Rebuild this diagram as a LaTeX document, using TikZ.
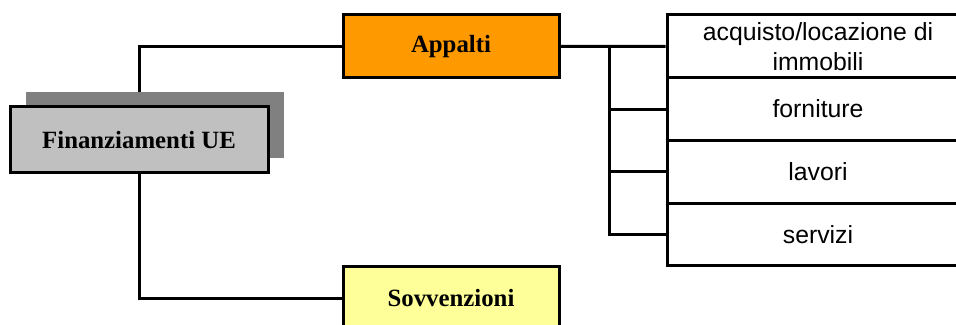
\documentclass[tikz,border=0pt]{standalone}
\usepackage{fontspec}
\setmainfont{Liberation Serif}
\setsansfont{Liberation Sans}
\usetikzlibrary{shadows,backgrounds}
\definecolor{appaltiorange}{RGB}{255,153,0}
\definecolor{sovvyellow}{RGB}{255,255,153}
\definecolor{boxgray}{RGB}{192,192,192}
\definecolor{shadowgray}{RGB}{128,128,128}
\tikzset{
    mainbox/.style={draw, line width=1.5pt, minimum width=108pt, minimum height=31.5pt,
        font=\fontsize{12.4}{15}\selectfont\bfseries},
    itembox/.style={draw, line width=1.5pt, fill=white, minimum width=151pt, minimum height=31.4pt,
        align=center, font=\sffamily\fontsize{12.4}{15}\selectfont},
    link/.style={line width=1.5pt}
}
\begin{document}
\begin{tikzpicture}[x=0.5pt, y=-0.5pt]
        \path[use as bounding box] (0,0) rectangle (956,325);
        \clip (0,0) rectangle (956,325);
        % Root box and its two branches
        \node[mainbox, fill=boxgray, minimum width=129pt, minimum height=33pt,
            drop shadow={shadow xshift=8pt, shadow yshift=7.5pt, fill=shadowgray, opacity=1}]
            (fin) at (139,140) {Finanziamenti UE};
        \node[mainbox, fill=appaltiorange] (app) at (451,46.5) {Appalti};
        \node[mainbox, fill=sovvyellow] (sov) at (451,298.5) {Sovvenzioni};
        % Kinds of contract
        \node[itembox] (acq) at (818,46.4) {acquisto/locazione di\\immobili};
        \foreach \y/\name/\txt in {109.1/forn/forniture, 171.9/lav/lavori, 234.6/serv/servizi} {
            \node[itembox] (\name) at (818,\y) {\txt};
        }
        \coordinate (bus) at (609,0);
        % Draw lines
        \begin{scope}[on background layer]
            \draw[link] (fin.north) |- (app.west);
            \draw[link] (fin.south) |- (sov.west);
            \draw[link] (app.east) -- (acq.west);
            \draw[link] (acq.west -| bus) |- (serv.west);
            \foreach \name in {forn, lav} {
                \draw[link] (\name.west -| bus) -- (\name.west);
            }
        \end{scope}
\end{tikzpicture}
\end{document}
